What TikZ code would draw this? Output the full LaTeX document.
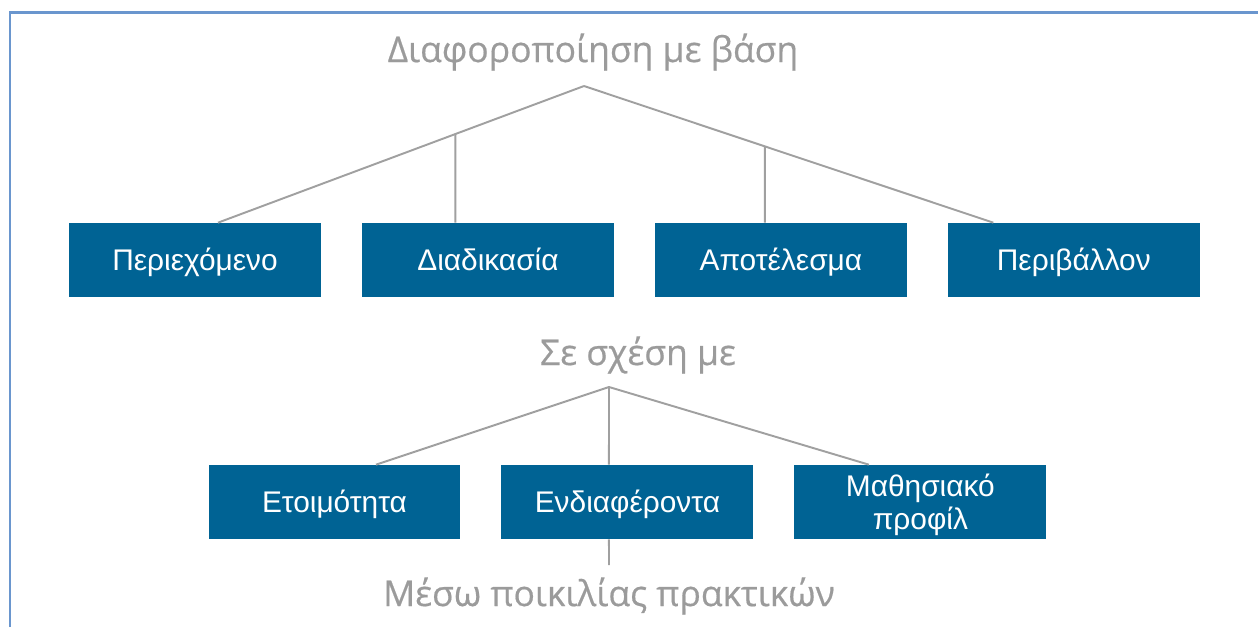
\documentclass[tikz,border=0pt]{standalone}
\usepackage{fontspec}
\setmainfont{Liberation Sans}
\newfontfamily\headfont[FakeBold=0.5]{Open Sans}
\usepackage{xcolor}
\usetikzlibrary{positioning}
\definecolor{boxblue}{RGB}{0,99,148}
\definecolor{linegrey}{RGB}{160,160,160}
\definecolor{headgrey}{RGB}{155,155,155}
\definecolor{frameblue}{RGB}{106,150,206}

\begin{document}
\begin{tikzpicture}[x=0.02cm, y=-0.02cm, node distance=5.86cm,
		box/.style={fill=boxblue, text=white, minimum width=5.04cm, minimum height=1.48cm, inner sep=0pt, align=center, text height=12.2pt, text depth=0pt, font=\fontsize{17}{18.7}\selectfont},
		head/.style={text=headgrey, inner sep=0pt, anchor=base, font=\headfont\fontsize{20.2}{24}\selectfont},
		branch/.style={draw=linegrey, line width=1.1pt}]
		\useasboundingbox (0,0) rectangle (1258,627);
		% Frame
		\draw[frameblue, line width=1.7pt] (10,627) -- (10,12.5) -- (1258,12.5);
		
		% Define the nodes (first tree)
		\node (basis) [head] at (593,62) {Διαφοροποίηση με βάση};
		\node (content) [box] at (195,260) {Περιεχόμενο};
		\node (process) [right of=content, box] {Διαδικασία};
		\node (product) [right of=process, box] {Αποτέλεσμα};
		\node (setting) [right of=product, box] {Περιβάλλον};
		
		\coordinate (topA) at (584,86);
		\coordinate (footA) at ([xshift=0.46cm]content.north);
		\coordinate (footB) at ([xshift=-0.65cm]process.north);
		\coordinate (upB) at ([yshift=1cm]footB);
		\coordinate (footC) at ([xshift=-0.32cm]product.north);
		\coordinate (upC) at ([yshift=1cm]footC);
		\coordinate (footD) at ([xshift=-1.61cm]setting.north);
		
		% Connect the nodes
		\draw[branch] (topA) -- (footA);
		\draw[branch] (topA) -- (footD);
		\draw[branch] (footB) -- (intersection of topA--footA and footB--upB);
		\draw[branch] (footC) -- (intersection of topA--footD and footC--upC);
		
		% Define the nodes (second tree)
		\node (relation) [head] at (638,365) {Σε σχέση με};
		\node (readiness) [box] at (334.5,502) {Ετοιμότητα};
		\node (interests) [right of=readiness, box] {Ενδιαφέροντα};
		\node (profile) [right of=interests, box, text height=30.9pt] {Μαθησιακό\\προφίλ};
		\node (practice) [head] at (609,606) {Μέσω ποικιλίας πρακτικών};
		
		\coordinate (topB) at (609,387);
		\coordinate (tail) at (609,565);
		
		% Connect the nodes
		\draw[branch] (topB) -- ([xshift=0.83cm]readiness.north);
		\draw[branch] (topB) -- ([xshift=-0.37cm]interests.north);
		\draw[branch] (topB) -- ([xshift=-1.03cm]profile.north);
		\draw[branch] ([xshift=-0.37cm]interests.south) -- (tail);
	\end{tikzpicture}
\end{document}
